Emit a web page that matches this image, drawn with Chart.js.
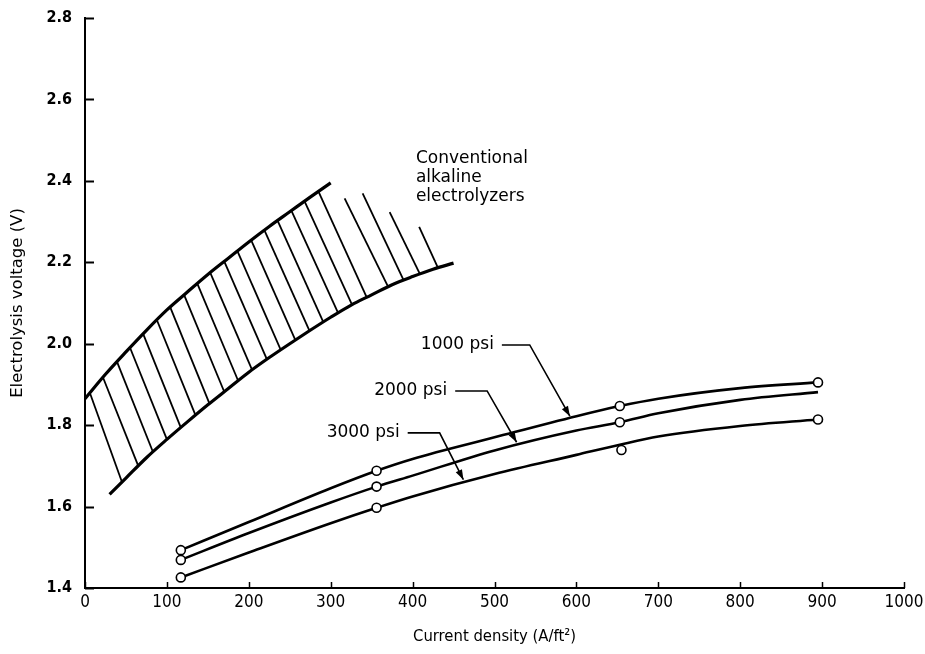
<!DOCTYPE html>
<html>
<head>
<meta charset="utf-8">
<script src="https://cdn.jsdelivr.net/npm/chart.js@4.4.1/dist/chart.umd.min.js"></script>
<style>
  html, body { margin: 0; padding: 0; background: #fff; }
</style>
</head>
<body>
<canvas id="chart" width="925" height="654"></canvas>
<script>
// axis ticks
const xTicks = [0, 100, 200, 300, 400, 500, 600, 700, 800, 900, 1000];
const yTicks = [1.4, 1.6, 1.8, 2.0, 2.2, 2.4, 2.6, 2.8];

// conventional alkaline electrolyzer band (upper / lower edges)
const upperX = [0, 25, 50, 75, 100, 125, 150, 175, 200, 225, 250, 275, 300];
const upperY = [1.865, 1.925, 1.98, 2.033, 2.083, 2.127, 2.17, 2.21, 2.25, 2.288, 2.324, 2.36, 2.395];
const lowerX = [30, 50, 75, 100, 125, 150, 175, 200, 225, 250, 275, 300, 325, 350, 375, 400, 425, 450];
const lowerY = [1.63, 1.67, 1.72, 1.765, 1.808, 1.85, 1.89, 1.93, 1.966, 2.0, 2.033, 2.065, 2.095, 2.12, 2.145, 2.165, 2.183, 2.198];

// hatch strokes inside the band
const hatchTopX = [6, 22, 39, 55, 71, 88, 104, 121, 137, 153, 170, 186, 203, 219, 235, 252, 268, 285, 317, 339, 372, 408];
const hatchTopY = [1.879, 1.917, 1.956, 1.990, 2.024, 2.057, 2.090, 2.120, 2.148, 2.174, 2.202, 2.228, 2.254, 2.279, 2.303, 2.327, 2.350, 2.374, 2.357, 2.369, 2.323, 2.287];
const hatchBotX = [45, 65, 83, 100, 117, 135, 152, 170, 187, 204, 222, 239, 257, 274, 291, 309, 326, 344, 370, 389, 409, 431];
const hatchBotY = [1.661, 1.700, 1.734, 1.765, 1.794, 1.824, 1.853, 1.882, 1.909, 1.936, 1.962, 1.985, 2.008, 2.032, 2.053, 2.076, 2.096, 2.114, 2.140, 2.156, 2.171, 2.186];

// pressure curves
const psiX = [117, 200, 300, 356, 400, 500, 600, 653, 700, 800, 895];
const psi1000 = [1.493, 1.562, 1.645, 1.688, 1.717, 1.77, 1.822, 1.847, 1.865, 1.891, 1.905];
const psi2000 = [1.469, 1.535, 1.61, 1.649, 1.676, 1.738, 1.787, 1.807, 1.829, 1.862, 1.881];
const psi3000 = [1.426, 1.487, 1.559, 1.597, 1.625, 1.68, 1.727, 1.752, 1.772, 1.798, 1.814];

// measured points (open circles)
const m1000X = [117, 356, 653, 895];
const m1000Y = [1.493, 1.688, 1.847, 1.905];
const m2000X = [117, 356, 653];
const m2000Y = [1.469, 1.649, 1.807];
const m3000X = [117, 356, 655, 895];
const m3000Y = [1.426, 1.597, 1.739, 1.814];

// callouts
const psiLabels = ['1000 psi', '2000 psi', '3000 psi'];
const leaderX = [[509, 543, 592], [452, 491, 527], [394, 433, 462]];
const leaderY = [[1.997, 1.997, 1.822], [1.884, 1.884, 1.758], [1.781, 1.781, 1.666]];
const bandLabel = ['Conventional', 'alkaline', 'electrolyzers'];
const bandLabelX = 404;
const bandLabelY = 2.454;

const pts = (xs, ys) => xs.map((v, i) => ({ x: v, y: ys[i] }));

const datasets = [];

[[m1000X, m1000Y], [m2000X, m2000Y], [m3000X, m3000Y]].forEach(([xs, ys]) => {
  datasets.push({
    data: pts(xs, ys),
    showLine: false,
    pointRadius: 4.5,
    pointBorderWidth: 1.6,
    pointBackgroundColor: '#fff',
    pointBorderColor: '#000'
  });
});

[psi1000, psi2000, psi3000].forEach(ys => {
  datasets.push({
    data: pts(psiX, ys),
    showLine: true,
    borderColor: '#000',
    borderWidth: 2.6,
    pointRadius: 0,
    cubicInterpolationMode: 'monotone'
  });
});

[[upperX, upperY], [lowerX, lowerY]].forEach(([xs, ys]) => {
  datasets.push({
    data: pts(xs, ys),
    showLine: true,
    borderColor: '#000',
    borderWidth: 3.2,
    pointRadius: 0,
    cubicInterpolationMode: 'monotone'
  });
});

hatchTopX.forEach((tx, i) => {
  datasets.push({
    data: [{ x: tx, y: hatchTopY[i] }, { x: hatchBotX[i], y: hatchBotY[i] }],
    showLine: true,
    borderColor: '#000',
    borderWidth: 1.8,
    pointRadius: 0
  });
});

leaderX.forEach((xs, i) => {
  datasets.push({
    data: pts(xs, leaderY[i]),
    showLine: true,
    borderColor: '#000',
    borderWidth: 1.6,
    pointRadius: 0
  });
});

const overlay = {
  id: 'overlay',
  afterDraw(chart) {
    const { ctx, chartArea, scales: { x, y } } = chart;
    ctx.save();
    ctx.strokeStyle = '#000';
    ctx.fillStyle = '#000';

    // inward tick marks
    ctx.lineWidth = 2;
    yTicks.forEach(v => {
      const py = Math.round(y.getPixelForValue(v)) + 0.5;
      ctx.beginPath();
      ctx.moveTo(chartArea.left, py);
      ctx.lineTo(chartArea.left + 9, py);
      ctx.stroke();
    });
    ctx.lineWidth = 1.5;
    xTicks.forEach(v => {
      const px = Math.round(x.getPixelForValue(v)) + 0.5;
      ctx.beginPath();
      ctx.moveTo(px, chartArea.bottom);
      ctx.lineTo(px, chartArea.bottom - 6);
      ctx.stroke();
    });

    // arrowheads + psi labels
    ctx.font = '17px "DejaVu Sans", sans-serif';
    ctx.textAlign = 'right';
    ctx.textBaseline = 'middle';
    leaderX.forEach((xs, i) => {
      const ys = leaderY[i];
      const x0 = x.getPixelForValue(xs[0]);
      const y0 = y.getPixelForValue(ys[0]);
      ctx.fillText(psiLabels[i], x0 - 8, y0);
      const cx = x.getPixelForValue(xs[1]), cy = y.getPixelForValue(ys[1]);
      const tx = x.getPixelForValue(xs[2]), ty = y.getPixelForValue(ys[2]);
      const a = Math.atan2(ty - cy, tx - cx);
      ctx.beginPath();
      ctx.moveTo(tx, ty);
      ctx.lineTo(tx - 10 * Math.cos(a) + 3.5 * Math.sin(a), ty - 10 * Math.sin(a) - 3.5 * Math.cos(a));
      ctx.lineTo(tx - 10 * Math.cos(a) - 3.5 * Math.sin(a), ty - 10 * Math.sin(a) + 3.5 * Math.cos(a));
      ctx.closePath();
      ctx.fill();
    });

    // band label
    ctx.textAlign = 'left';
    const bx = x.getPixelForValue(bandLabelX);
    const by = y.getPixelForValue(bandLabelY);
    bandLabel.forEach((t, i) => ctx.fillText(t, bx, by + i * 19));
    ctx.restore();
  }
};

new Chart(document.getElementById('chart'), {
  type: 'scatter',
  data: { datasets },
  plugins: [overlay],
  options: {
    responsive: false,
    animation: false,
    layout: { padding: { top: 18, right: 21, bottom: 0, left: 0 } },
    plugins: { legend: { display: false }, tooltip: { enabled: false } },
    scales: {
      x: {
        type: 'linear',
        min: 0,
        max: 1000,
        afterBuildTicks: s => { s.ticks = xTicks.map(v => ({ value: v })); },
        afterFit: s => { s.height = 66; s.paddingLeft = 0; s.paddingRight = 0; },
        grid: { display: false, drawTicks: false },
        border: { color: '#000', width: 2 },
        ticks: {
          color: '#000',
          padding: 4,
          callback: v => String(v),
          font: { family: '"DejaVu Sans Condensed", "DejaVu Sans", sans-serif', size: 17 }
        },
        title: {
          display: true,
          text: 'Current density (A/ft²)',
          color: '#000',
          padding: { top: 0, bottom: 7 },
          font: { family: '"DejaVu Sans Condensed", "DejaVu Sans", sans-serif', size: 16.5 }
        }
      },
      y: {
        type: 'linear',
        min: 1.4,
        max: 2.8,
        afterBuildTicks: s => { s.ticks = yTicks.map(v => ({ value: v })); },
        afterFit: s => { s.width = 85; s.paddingTop = 0; s.paddingBottom = 0; },
        grid: { display: false, drawTicks: false },
        border: { color: '#000', width: 2 },
        ticks: {
          color: '#000',
          padding: 13,
          callback: v => Number(v).toFixed(1),
          font: { family: '"DejaVu Sans Condensed", "DejaVu Sans", sans-serif', size: 16, weight: 'bold' }
        },
        title: {
          display: true,
          text: 'Electrolysis voltage (V)',
          color: '#000',
          padding: { top: 8, bottom: 0 },
          font: { family: '"DejaVu Sans", sans-serif', size: 16.5 }
        }
      }
    }
  }
});
</script>
</body>
</html>
